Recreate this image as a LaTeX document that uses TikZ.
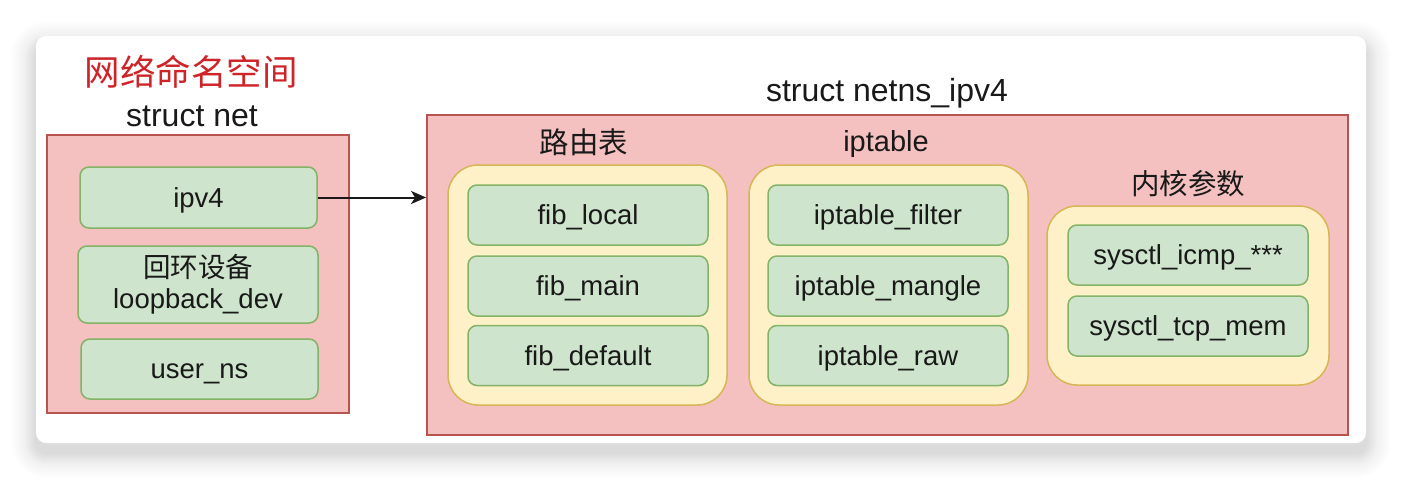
\documentclass[tikz,border=0pt]{standalone}
\usepackage{fontspec}
\setmainfont{Liberation Sans}
\newfontfamily\cjk{Noto Sans CJK SC}
\usetikzlibrary{arrows.meta,positioning}
\definecolor{nsfill}{RGB}{244,193,192}
\definecolor{nsline}{RGB}{184,84,80}
\definecolor{grpfill}{RGB}{255,241,199}
\definecolor{grpline}{RGB}{214,182,86}
\definecolor{itemfill}{RGB}{206,228,204}
\definecolor{itemline}{RGB}{130,179,102}
\definecolor{titlered}{RGB}{206,36,40}
\definecolor{ink}{RGB}{25,25,25}

\tikzset{
  nsbox/.style={draw=nsline,fill=nsfill,line width=1.8pt,inner sep=0pt},
  grpbox/.style={draw=grpline,fill=grpfill,line width=1.5pt,rounded corners=30pt,inner sep=0pt},
  itembox/.style={draw=itemline,fill=itemfill,line width=1.5pt,rounded corners=9pt,
    align=center,inner sep=0pt,text=ink,font=\fontsize{27.5}{31}\selectfont},
  oneline/.style={text height=19.5pt,text depth=0pt},
  heading/.style={text=ink,inner sep=0pt,font=\fontsize{32}{36}\selectfont},
  subheading/.style={text=ink,inner sep=0pt,font=\fontsize{29}{33}\selectfont},
  link/.style={-{Stealth[length=15pt,width=13pt,inset=4pt]},line width=2pt,ink}
}

\begin{document}
\begin{tikzpicture}[x=1pt,y=-1pt]
  \useasboundingbox (0,0) rectangle (1402,480);

  % card with soft shadow
  \foreach \s in {1,...,32}{
    \pgfmathsetmacro\rr{10+\s}
    \pgfmathsetmacro\op{0.009*(1-\s/33)}
    \fill[black,opacity=\op,rounded corners=\rr pt]
      (36-\s,36-\s+10) rectangle (1366+\s,443+\s+10);
  }
  \fill[white,rounded corners=10pt] (36,36) rectangle (1366,443);

  % struct net
  \node[nsbox,minimum width=302pt,minimum height=278pt] (net) at (198,274) {};
  \node[text=titlered,inner sep=0pt,font=\cjk\fontsize{35.5}{40}\selectfont]
    (nstitle) at (191,72) {网络命名空间};
  \node[heading] (nettitle) at (192,116) {struct net};
  \node[itembox,oneline,minimum width=237pt,minimum height=61pt] (ipv4) at (198.5,197.5) {ipv4};
  \node[itembox,minimum width=240pt,minimum height=77pt] (lo) at (198,284.5)
    {{\cjk 回环设备}\\loopback\_dev};
  \node[itembox,oneline,minimum width=237pt,minimum height=60pt] (userns) at (199.5,369) {user\_ns};

  % struct netns_ipv4
  \node[nsbox,minimum width=921pt,minimum height=320pt] (netns) at (887.5,275) {};
  \node[heading] (netnstitle) at (887,93) {struct netns\_ipv4};

  % groups
  \node[grpbox,minimum width=279pt,minimum height=240pt] (route) at (587.5,285) {};
  \node[grpbox,minimum width=279pt,minimum height=240pt] (ipt) at (888.5,285) {};
  \node[grpbox,minimum width=282pt,minimum height=179pt] (sysctl) at (1188,295.5) {};
  \node[subheading,font=\cjk\fontsize{29.5}{33}\selectfont] (routetitle) at (584,142) {路由表};
  \node[subheading] (ipttitle) at (886,144) {iptable};
  \node[subheading,font=\cjk\fontsize{28.5}{33}\selectfont] (sysctltitle) at (1188,184) {内核参数};

  % items
  \foreach \x/\y/\nm/\txt in {
    588/215/fib1/{fib\_local},
    588/286/fib2/{fib\_main},
    588/355.5/fib3/{fib\_default},
    888/215/ipt1/{iptable\_filter},
    888/286/ipt2/{iptable\_mangle},
    888/355.5/ipt3/{iptable\_raw},
    1188/255/sys1/{sysctl\_icmp\_***},
    1188/326/sys2/{sysctl\_tcp\_mem}}{
    \node[itembox,oneline,minimum width=240pt,minimum height=60pt] (\nm) at (\x,\y) {\txt};
  }

  % pointer
  \draw[link] (ipv4.east) -- (ipv4.east -| netns.west);
\end{tikzpicture}
\end{document}
